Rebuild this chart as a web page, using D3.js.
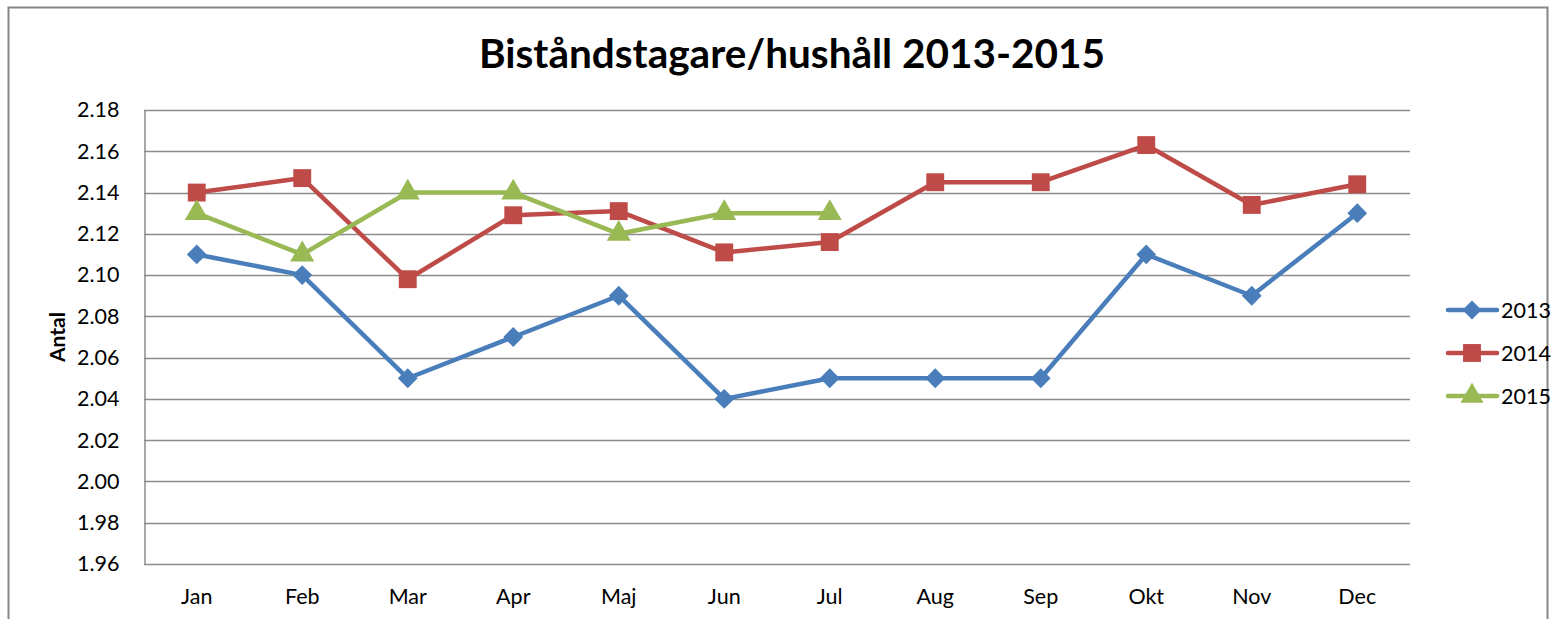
<!DOCTYPE html>
<meta charset="utf-8">
<style>
body { margin: 0; background: #fff; }
text { font-family: Lato, "Open Sans", sans-serif; fill: #000; }
</style>
<body>
<script src="https://cdn.jsdelivr.net/npm/d3@7"></script>
<script>
// data
var months = ["Jan","Feb","Mar","Apr","Maj","Jun","Jul","Aug","Sep","Okt","Nov","Dec"];
var years = ["2013","2014","2015"];
var v2013 = [2.11, 2.10, 2.05, 2.07, 2.09, 2.04, 2.05, 2.05, 2.05, 2.11, 2.09, 2.13];
var v2014 = [2.140, 2.147, 2.098, 2.129, 2.131, 2.111, 2.116, 2.145, 2.145, 2.163, 2.134, 2.144];
var v2015 = [2.13, 2.11, 2.14, 2.14, 2.12, 2.13, 2.13];
var yTicks = [1.96,1.98,2.00,2.02,2.04,2.06,2.08,2.10,2.12,2.14,2.16,2.18];
var colors = ["#4a7ebb", "#be4b48", "#98b954"];
var symbols = [d3.symbolDiamond2, d3.symbolSquare, d3.symbolTriangle];

var series = [v2013, v2014, v2015];

var W = 1556, H = 619;
var margin = {top: 110, left: 144, right: 146, bottom: 55};

var svg = d3.select("body").append("svg")
    .attr("width", W)
    .attr("height", H);

// outer chart border
svg.append("rect")
    .attr("x", 8.5).attr("y", 7.5)
    .attr("width", 1539).attr("height", 640)
    .attr("fill", "none").attr("stroke", "#868686").attr("stroke-width", 2);

var x = d3.scaleBand()
    .domain(months)
    .range([margin.left, W - margin.right]);
var y = d3.scaleLinear()
    .domain([1.96, 2.18])
    .range([H - margin.bottom, margin.top]);

// gridlines
svg.append("g").selectAll("line")
    .data(yTicks)
  .enter().append("line")
    .attr("x1", margin.left).attr("x2", W - margin.right)
    .attr("y1", function(d) { return Math.round(y(d)) + 0.5; })
    .attr("y2", function(d) { return Math.round(y(d)) + 0.5; })
    .attr("stroke", "#8c8c8c").attr("stroke-width", 1.5);

// y axis
var yAxis = svg.append("g")
    .attr("transform", "translate(" + (margin.left + 0.5) + ",0)")
    .call(d3.axisLeft(y).tickValues(yTicks).tickFormat(d3.format(".2f")).tickSize(0).tickPadding(25));
yAxis.select(".domain").attr("stroke", "#8c8c8c").attr("stroke-width", 1.5);
yAxis.selectAll("text").style("font-size", "21.5px").attr("font-family", "Lato, sans-serif");

// x axis
var xAxis = svg.append("g")
    .attr("transform", "translate(0," + (Math.round(y(1.96)) + 0.5) + ")")
    .call(d3.axisBottom(x).tickSize(0).tickPadding(24));
xAxis.select(".domain").remove();
xAxis.selectAll("text").style("font-size", "21.5px").attr("font-family", "Lato, sans-serif");

// title
svg.append("text")
    .attr("x", 792).attr("y", 68)
    .attr("text-anchor", "middle")
    .style("font-size", "40.5px").style("font-weight", "bold")
    .text("Biståndstagare/hushåll 2013-2015");

// y label
svg.append("text")
    .attr("transform", "translate(65," + ((margin.top + H - margin.bottom) / 2) + ") rotate(-90)")
    .attr("text-anchor", "middle")
    .style("font-size", "21px").style("font-weight", "bold")
    .text("Antal");

var line = d3.line()
    .x(function(d, i) { return x(months[i]) + x.bandwidth() / 2; })
    .y(function(d) { return y(d); });

series.forEach(function(s, k) {
  var g = svg.append("g");
  g.append("path")
    .datum(s)
    .attr("d", line)
    .attr("fill", "none")
    .attr("stroke", colors[k])
    .attr("stroke-width", 4.5)
    .attr("stroke-linejoin", "round");
  g.selectAll(".m")
    .data(s)
  .enter().append("path")
    .attr("transform", function(d, i) { return "translate(" + (x(months[i]) + x.bandwidth() / 2) + "," + y(d) + ")"; })
    .attr("d", d3.symbol().type(symbols[k]).size(k == 1 ? 320 : 250))
    .attr("fill", colors[k]);
});

// legend
var leg = svg.append("g");
years.forEach(function(yr, k) {
  var ly = 310 + k * 43;
  leg.append("line")
    .attr("x1", 1448).attr("x2", 1497)
    .attr("y1", ly).attr("y2", ly)
    .attr("stroke", colors[k]).attr("stroke-width", 4.5).attr("stroke-linecap", "round");
  leg.append("path")
    .attr("transform", "translate(1472," + ly + ")")
    .attr("d", d3.symbol().type(symbols[k]).size(k == 1 ? 320 : 230))
    .attr("fill", colors[k]);
  leg.append("text")
    .attr("x", 1501).attr("y", ly + 8)
    .style("font-size", "21.5px")
    .text(yr);
});
</script>
</body>
